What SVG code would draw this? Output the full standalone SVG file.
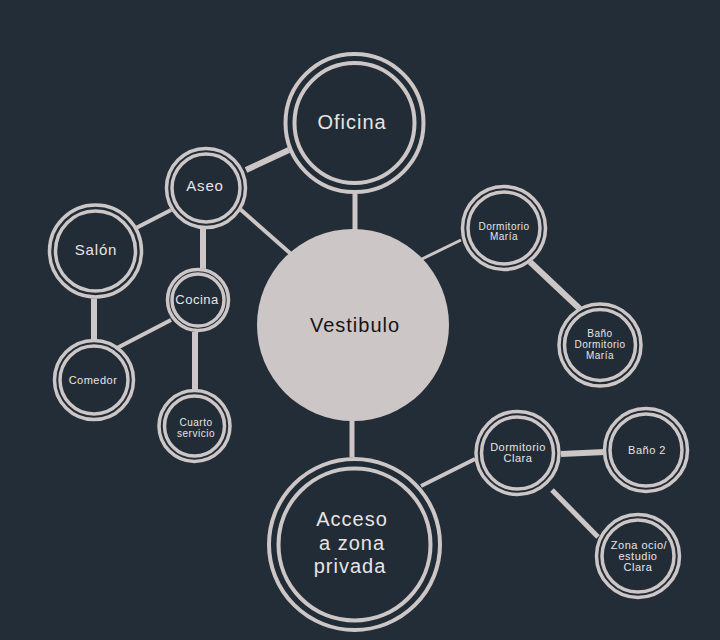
<svg xmlns="http://www.w3.org/2000/svg" width="720" height="640" viewBox="0 0 720 640">
<style>
.ring{fill:none;stroke:#cdc6c6;stroke-width:3.5}
.core{fill:#222c36}
.lbl{fill:#e8e4e4;font-family:"Liberation Sans",Arial,sans-serif;text-anchor:middle;dominant-baseline:central;letter-spacing:0.5px}
.big{font-size:20px;letter-spacing:1px}
.mid{font-size:15px;letter-spacing:0.8px}
.sm{font-size:11px}
.xs{font-size:10px}
.edge{stroke:#cdc6c6;fill:none}
</style>
<rect width="720" height="640" fill="#232d37"/>
<g id="connectors">
<line class="edge" x1="355" y1="194" x2="355" y2="230" stroke-width="5"/>
<line class="edge" x1="352" y1="420" x2="352" y2="458" stroke-width="5"/>
<line class="edge" x1="246" y1="170" x2="291" y2="149" stroke-width="6"/>
<line class="edge" x1="240" y1="209" x2="291" y2="254" stroke-width="4"/>
<line class="edge" x1="136" y1="228" x2="171" y2="210" stroke-width="4"/>
<line class="edge" x1="203" y1="229" x2="203" y2="269" stroke-width="6"/>
<line class="edge" x1="94" y1="297" x2="94" y2="339" stroke-width="6"/>
<line class="edge" x1="171" y1="320" x2="117" y2="348" stroke-width="4"/>
<line class="edge" x1="195" y1="332" x2="195" y2="389" stroke-width="6"/>
<line class="edge" x1="422" y1="259" x2="461" y2="240" stroke-width="3"/>
<line class="edge" x1="528" y1="260" x2="580" y2="309" stroke-width="6"/>
<line class="edge" x1="421" y1="486" x2="475" y2="459" stroke-width="4"/>
<line class="edge" x1="561" y1="454" x2="605" y2="452" stroke-width="6"/>
<line class="edge" x1="552" y1="490" x2="598" y2="537" stroke-width="5"/>
</g>
<g id="vestibulo">
<circle cx="353" cy="325" r="96" fill="#cdc6c6"/>
<text class="lbl big" x="355" y="325" style="fill:#151515">Vestibulo</text>
</g>
<g id="oficina">
<circle class="core" cx="354.5" cy="123" r="71"/>
<circle class="ring" cx="354.5" cy="123" r="69" style="stroke-width:4"/>
<circle class="ring" cx="354.5" cy="123" r="60" style="stroke-width:4"/>
<text class="lbl big" x="352" y="122">Oficina</text>
</g>
<g id="acceso">
<circle class="core" cx="354.5" cy="544.5" r="87.5"/>
<circle class="ring" cx="354.5" cy="544.5" r="85.5" style="stroke-width:4"/>
<circle class="ring" cx="354.5" cy="544.5" r="76" style="stroke-width:4"/>
<text class="lbl big" x="352" y="519">Acceso</text>
<text class="lbl big" x="352" y="543">a zona</text>
<text class="lbl big" x="350" y="566">privada</text>
</g>
<g id="aseo">
<circle class="core" cx="206" cy="188" r="41"/>
<circle class="ring" cx="206" cy="188" r="39.5"/>
<circle class="ring" cx="206" cy="188" r="34"/>
<text class="lbl mid" x="205" y="185">Aseo</text>
</g>
<g id="salon">
<circle class="core" cx="95.5" cy="251" r="47.5"/>
<circle class="ring" cx="95.5" cy="251" r="46"/>
<circle class="ring" cx="95.5" cy="251" r="40"/>
<text class="lbl mid" x="96" y="249">Salón</text>
</g>
<g id="cocina">
<circle class="core" cx="198" cy="300" r="32"/>
<circle class="ring" cx="198" cy="300" r="30.5"/>
<circle class="ring" cx="198" cy="300" r="26"/>
<text class="lbl" x="197" y="299" style="font-size:13px">Cocina</text>
</g>
<g id="comedor">
<circle class="core" cx="94" cy="380" r="41"/>
<circle class="ring" cx="94" cy="380" r="39.5"/>
<circle class="ring" cx="94" cy="380" r="34"/>
<text class="lbl sm" x="93" y="380">Comedor</text>
</g>
<g id="cuarto-servicio">
<circle class="core" cx="194.5" cy="426" r="37"/>
<circle class="ring" cx="194.5" cy="426" r="35.5"/>
<circle class="ring" cx="194.5" cy="426" r="30"/>
<text class="lbl xs" x="196" y="422">Cuarto</text>
<text class="lbl xs" x="196" y="433">servicio</text>
</g>
<g id="dormitorio-maria">
<circle class="core" cx="504" cy="228" r="43"/>
<circle class="ring" cx="504" cy="228" r="41.5"/>
<circle class="ring" cx="504" cy="228" r="36"/>
<text class="lbl xs" x="504" y="226">Dormitorio</text>
<text class="lbl xs" x="504" y="236">María</text>
</g>
<g id="bano-maria">
<circle class="core" cx="600" cy="345" r="42.5"/>
<circle class="ring" cx="600" cy="345" r="41"/>
<circle class="ring" cx="600" cy="345" r="35.5"/>
<text class="lbl xs" x="600" y="333">Baño</text>
<text class="lbl xs" x="600" y="344">Dormitorio</text>
<text class="lbl xs" x="600" y="355">María</text>
</g>
<g id="dormitorio-clara">
<circle class="core" cx="517.5" cy="453" r="43"/>
<circle class="ring" cx="517.5" cy="453" r="41.5"/>
<circle class="ring" cx="517.5" cy="453" r="36"/>
<text class="lbl sm" x="518" y="447">Dormitorio</text>
<text class="lbl sm" x="518" y="458">Clara</text>
</g>
<g id="bano-2">
<circle class="core" cx="646" cy="450" r="43"/>
<circle class="ring" cx="646" cy="450" r="41.5"/>
<circle class="ring" cx="646" cy="450" r="36"/>
<text class="lbl sm" x="647" y="450">Baño 2</text>
</g>
<g id="zona-ocio">
<circle class="core" cx="638" cy="556" r="43"/>
<circle class="ring" cx="638" cy="556" r="41.5"/>
<circle class="ring" cx="638" cy="556" r="36"/>
<text class="lbl sm" x="639" y="545">Zona ocio/</text>
<text class="lbl sm" x="638" y="556">estudio</text>
<text class="lbl sm" x="638" y="567">Clara</text>
</g>
</svg>
